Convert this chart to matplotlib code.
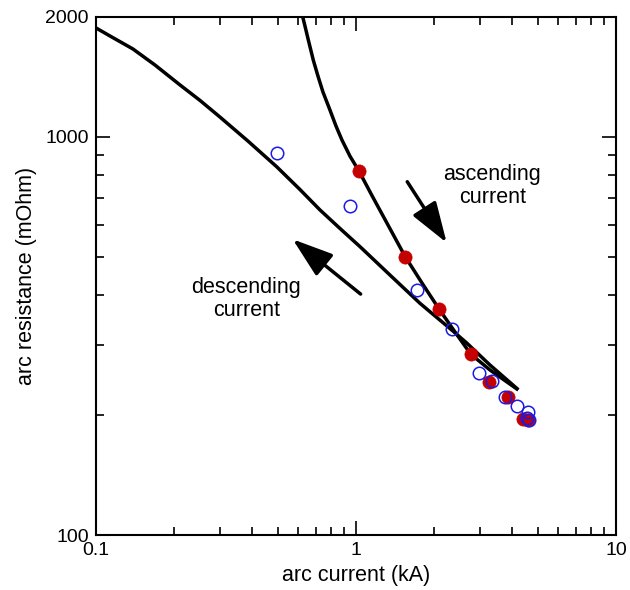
import matplotlib
matplotlib.use("Agg")
import matplotlib.pyplot as plt

plt.rcParams['font.family'] = ['Liberation Sans', 'DejaVu Sans']

# Model curves (arc current kA, arc resistance mOhm)
desc_curve_x = [0.1003, 0.1135, 0.139, 0.169, 0.211, 0.2518, 0.300, 0.3849, 0.496,
                0.6098, 0.728, 0.8689, 1.037, 1.352, 1.764, 2.347, 2.666, 3.277, 4.21]
desc_curve_y = [1874, 1789, 1660, 1513, 1348, 1233, 1121, 975, 841,
                737, 655, 588.6, 530, 449.9, 382, 326.6, 303.9, 267.5, 232]

asc_curve_x = [0.6245, 0.6374, 0.6545, 0.686, 0.7149, 0.7473, 0.795, 0.8386, 0.8843,
               0.949, 1.028, 1.153, 1.329, 1.548, 1.795, 2.086, 2.404, 2.762, 3.277, 4.21]
asc_curve_y = [2000, 1895, 1763, 1557, 1420, 1295, 1167, 1064, 981,
               894, 820, 712, 600.5, 500, 429.7, 370, 323.8, 285, 259.9, 231.6]

# Measured points
asc_pts_x = [1.028, 1.548, 2.086, 2.762, 3.248, 3.842, 4.399, 4.598]
asc_pts_y = [822, 500, 370, 285, 243, 222, 195.6, 194.8]

desc_pts_x = [0.496, 0.949, 1.713, 2.347, 2.972, 3.326, 3.731, 4.172, 4.598, 4.532, 4.64]
desc_pts_y = [909, 671, 413, 329, 256, 244, 222, 211, 204, 196.7, 194.8]

# Annotations
asc_arrow = ((1.576, 771), (2.234, 542))   # tail, tip
desc_arrow = ((1.043, 403), (0.5716, 553))
asc_text_pos = (3.341, 752)
desc_text_pos = (0.379, 392)

fig = plt.figure(figsize=(6.3, 5.9), dpi=100)
ax = fig.add_axes([0.1519, 0.0926, 0.8259, 0.8791])

for cx, cy in ((desc_curve_x, desc_curve_y), (asc_curve_x, asc_curve_y)):
    ax.plot(cx, cy, color='black', lw=2.5, solid_capstyle='butt',
            solid_joinstyle='round', zorder=2)

ax.plot(asc_pts_x, asc_pts_y, 'o', ls='none', ms=9.5, mfc='#C40000', mec='#C40000', mew=0.5, zorder=3)
ax.plot(desc_pts_x, desc_pts_y, 'o', ls='none', ms=9, mfc='none', mec='#1A1AE6', mew=1.1, zorder=4)

for (tail, tip) in (asc_arrow, desc_arrow):
    ax.annotate('', xy=tip, xytext=tail,
                arrowprops=dict(arrowstyle='-|>,head_length=1.25,head_width=0.42',
                                mutation_scale=20, lw=2.5, color='black',
                                shrinkA=0, shrinkB=0))

ax.text(*asc_text_pos, 'ascending\ncurrent', ha='center', va='center',
        fontsize=15.5, linespacing=1.1)
ax.text(*desc_text_pos, 'descending\ncurrent', ha='center', va='center',
        fontsize=15.5, linespacing=1.1)

ax.set_xscale('log')
ax.set_yscale('log')
ax.set_xlim(0.1, 10)
ax.set_ylim(100, 2000)

ax.set_xticks([0.1, 1, 10])
ax.set_xticklabels(['0.1', '1', '10'])
ax.set_yticks([100, 1000, 2000])
ax.set_yticklabels(['100', '1000', '2000'])
ax.yaxis.set_minor_locator(matplotlib.ticker.LogLocator(base=10, subs=range(2, 10)))
ax.yaxis.set_minor_formatter(matplotlib.ticker.NullFormatter())
ax.xaxis.set_minor_formatter(matplotlib.ticker.NullFormatter())

ax.tick_params(which='both', direction='in', top=True, right=True, width=1.2, labelsize=14, pad=5)
ax.tick_params(which='major', length=10)
ax.tick_params(which='minor', length=5.5)
for s in ax.spines.values():
    s.set_linewidth(1.5)

ax.set_xlabel('arc current (kA)', fontsize=15.5, labelpad=4)
ax.set_ylabel('arc resistance (mOhm)', fontsize=15.5, labelpad=6)

fig.savefig('out.png', dpi=100)
